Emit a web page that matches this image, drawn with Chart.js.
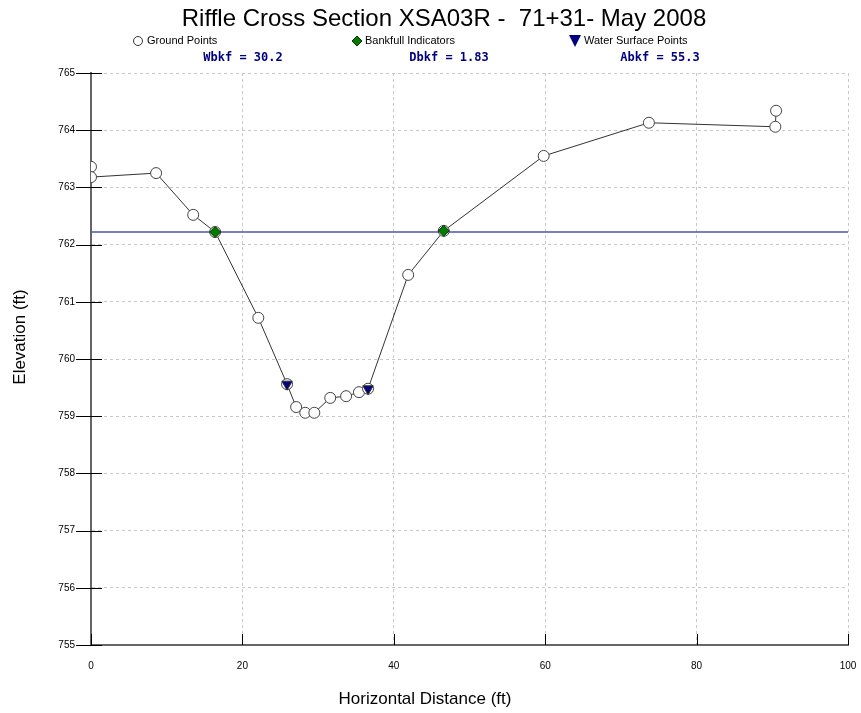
<!DOCTYPE html>
<html>
<head>
<meta charset="utf-8">
<script src="https://cdn.jsdelivr.net/npm/chart.js@4/dist/chart.umd.min.js"></script>
<style>
  body { margin: 0; background: #fff; }
  canvas { display: block; }
</style>
</head>
<body>
<canvas id="xsChart" width="861" height="713"></canvas>
<script>
// Survey shots across the riffle (station, elevation)
const stationFt = [0, 0, 8.6, 13.5, 16.4, 22.1, 25.9, 27.1, 28.3, 29.5, 31.6, 33.7, 35.4, 36.6, 41.9, 46.6, 59.8, 73.7, 90.4, 90.5];
const elevFt = [763.36, 763.18, 763.25, 762.52, 762.22, 760.72, 759.56, 759.16, 759.06, 759.06, 759.32, 759.35, 759.42, 759.48, 761.47, 762.24, 763.55, 764.13, 764.06, 764.34];

// Bankfull indicators
const bkfStation = [16.4, 46.6];
const bkfElev = [762.22, 762.24];

// Water surface shots
const wsStation = [25.9, 36.6];
const wsElev = [759.56, 759.48];

// Bankfull stage line
const bkfStage = 762.22;

const xTicks = [0, 20, 40, 60, 80, 100];
const yTicks = [755, 756, 757, 758, 759, 760, 761, 762, 763, 764, 765];

const summary = ['Wbkf = 30.2', 'Dbkf = 1.83', 'Abkf = 55.3'];

const toPts = (xs, ys) => xs.map((x, i) => ({ x: x, y: ys[i] }));

// title, legend row, bankfull summary, axis titles and tick marks
const decorations = {
    id: 'decorations',
    afterDraw(chart) {
        const ctx = chart.ctx;
        const area = chart.chartArea;
        ctx.save();

        ctx.fillStyle = '#000';
        ctx.textAlign = 'center';
        ctx.textBaseline = 'middle';
        ctx.font = '24px "Liberation Sans", Arial, sans-serif';
        ctx.fillText('Riffle Cross Section XSA03R -  71+31- May 2008', 444, 19);

        // legend
        ctx.font = '11px "Liberation Sans", Arial, sans-serif';
        ctx.textAlign = 'left';
        ctx.lineWidth = 1;
        ctx.strokeStyle = '#333';
        ctx.fillStyle = '#fff';
        ctx.beginPath();
        ctx.arc(138, 41, 4.5, 0, Math.PI * 2);
        ctx.fill();
        ctx.stroke();
        ctx.fillStyle = '#000';
        ctx.fillText('Ground Points', 147, 41);

        ctx.fillStyle = '#007a00';
        ctx.strokeStyle = '#003300';
        ctx.beginPath();
        ctx.moveTo(357, 36); ctx.lineTo(362, 41); ctx.lineTo(357, 46); ctx.lineTo(352, 41);
        ctx.closePath();
        ctx.fill();
        ctx.stroke();
        ctx.fillStyle = '#000';
        ctx.fillText('Bankfull Indicators', 365, 41);

        ctx.fillStyle = '#000080';
        ctx.beginPath();
        ctx.moveTo(569, 35); ctx.lineTo(581, 35); ctx.lineTo(575, 47);
        ctx.closePath();
        ctx.fill();
        ctx.fillStyle = '#000';
        ctx.fillText('Water Surface Points', 584, 41);

        // bankfull summary
        ctx.font = 'bold 12px "DejaVu Sans Mono", monospace';
        ctx.fillStyle = '#000080';
        ctx.textAlign = 'center';
        [243, 449, 660].forEach((x, i) => ctx.fillText(summary[i], x, 58));

        // axis titles
        ctx.fillStyle = '#000';
        ctx.font = '17px "Liberation Sans", Arial, sans-serif';
        ctx.fillText('Horizontal Distance (ft)', 425, 699);
        ctx.save();
        ctx.translate(20, 337);
        ctx.rotate(-Math.PI / 2);
        ctx.fillText('Elevation (ft)', 0, 0);
        ctx.restore();

        // tick marks
        ctx.strokeStyle = '#000';
        ctx.lineWidth = 1;
        ctx.beginPath();
        const xs = chart.scales.x, ys = chart.scales.y;
        xTicks.forEach(v => {
            const px = Math.round(xs.getPixelForValue(v)) + 0.5;
            ctx.moveTo(px, area.bottom);
            ctx.lineTo(px, area.bottom - 11);
        });
        yTicks.forEach(v => {
            const py = Math.round(ys.getPixelForValue(v)) + 0.5;
            ctx.moveTo(area.left - 15, py);
            ctx.lineTo(area.left + 11, py);
        });
        ctx.stroke();
        ctx.restore();
    }
};

new Chart(document.getElementById('xsChart').getContext('2d'), {
    type: 'scatter',
    data: {
        datasets: [
            {
                label: 'Bankfull Stage',
                data: [{ x: 0, y: bkfStage }, { x: 100, y: bkfStage }],
                showLine: true,
                borderColor: '#4a56b4',
                borderWidth: 1.5,
                pointRadius: 0,
                order: 4
            },
            {
                label: 'Ground Points',
                data: toPts(stationFt, elevFt),
                showLine: true,
                borderColor: '#333',
                borderWidth: 1,
                pointStyle: 'circle',
                pointRadius: 5.5,
                pointBackgroundColor: '#fff',
                pointBorderColor: '#444',
                pointBorderWidth: 1,
                order: 3
            },
            {
                label: 'Water Surface Points',
                data: toPts(wsStation, wsElev),
                pointStyle: 'triangle',
                rotation: 180,
                pointRadius: 6,
                pointBackgroundColor: '#000080',
                pointBorderColor: '#333',
                pointBorderWidth: 1,
                order: 2
            },
            {
                label: 'Bankfull Indicators',
                data: toPts(bkfStation, bkfElev),
                pointStyle: 'rectRot',
                pointRadius: 5.5,
                pointBackgroundColor: '#007a00',
                pointBorderColor: '#003300',
                pointBorderWidth: 1,
                order: 1
            }
        ]
    },
    options: {
        responsive: false,
        animation: false,
        layout: { padding: { top: 73, right: 13, bottom: 0, left: 0 } },
        plugins: {
            legend: { display: false },
            tooltip: { enabled: false }
        },
        scales: {
            x: {
                type: 'linear',
                min: 0,
                max: 100,
                afterFit: s => {
                    s.height = 68;
                    s.paddingLeft = 0;
                    s.paddingRight = 0;
                },
                afterBuildTicks: s => { s.ticks = xTicks.map(v => ({ value: v })); },
                ticks: {
                    padding: 15,
                    color: '#000',
                    font: { family: '"Liberation Sans", Arial, sans-serif', size: 10 }
                },
                grid: { color: '#c8c8c8', drawTicks: false },
                border: { color: '#666', width: 2, dash: [3, 3] }
            },
            y: {
                type: 'linear',
                min: 755,
                max: 765,
                afterFit: s => {
                    s.width = 91;
                    s.paddingTop = 0;
                    s.paddingBottom = 0;
                },
                afterBuildTicks: s => { s.ticks = yTicks.map(v => ({ value: v })); },
                ticks: {
                    padding: 16,
                    color: '#000',
                    font: { family: '"Liberation Sans", Arial, sans-serif', size: 10 }
                },
                grid: { color: '#c8c8c8', drawTicks: false },
                border: { color: '#666', width: 2, dash: [3, 3] }
            }
        }
    },
    plugins: [decorations]
});
</script>
</body>
</html>
